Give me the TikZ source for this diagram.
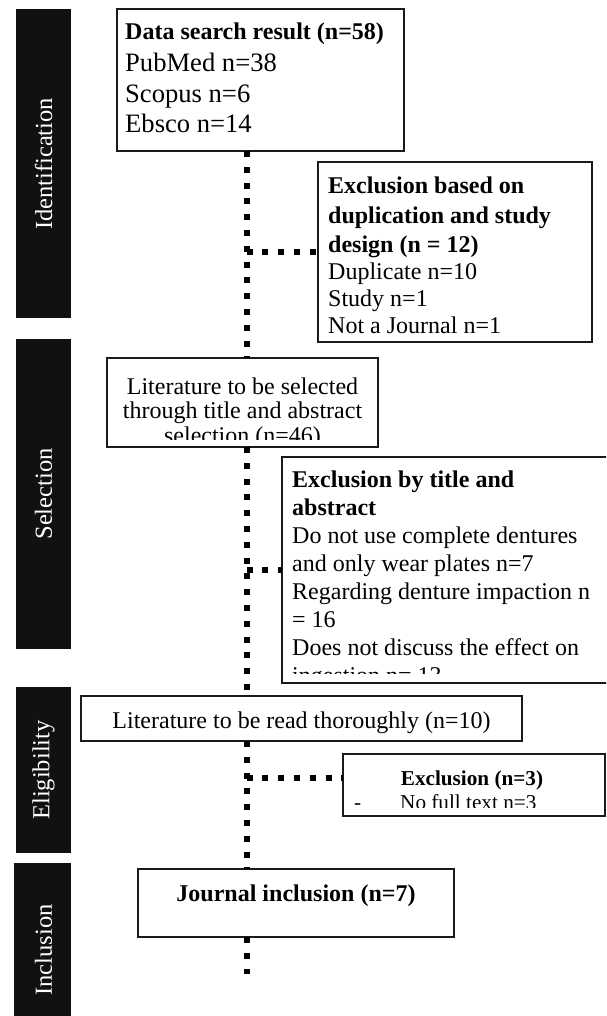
\documentclass[tikz,border=0pt]{standalone}
\usepackage{fontspec}
\setmainfont{Liberation Serif}
\definecolor{barblack}{HTML}{111111}
\definecolor{boxline}{HTML}{1A1A1A}
\begin{document}
\begin{tikzpicture}[x=1pt,y=-1pt,
  bar/.style={fill=barblack, draw=none},
  barlabel/.style={text=white, rotate=90, inner sep=0, font=\fontsize{24.5}{29}\selectfont},
  box/.style={draw=boxline, line width=1.6pt, anchor=north west, inner sep=0, outer sep=0},
  txt/.style={anchor=base west, inner sep=0, font=\fontsize{24}{28}\selectfont},
  txtL/.style={anchor=base west, inner sep=0, font=\fontsize{26.6}{31}\selectfont},
  ctxt/.style={anchor=base, inner sep=0, font=\fontsize{24}{28}\selectfont},
  bold/.style={font=\fontsize{24}{28}\selectfont\bfseries},
  small/.style={font=\fontsize{21.2}{24}\selectfont},
  smallbold/.style={font=\fontsize{21.2}{24}\selectfont\bfseries},
  dotline/.style={line width=6pt, dash pattern=on 6pt off 9.8pt, draw=black}
]
\clip (0,0) rectangle (606,1016);
\fill[white] (0,0) rectangle (606,1016);

% side bars
\fill[bar] (16,9) rectangle (71,318);
\fill[bar] (16,339) rectangle (71,649);
\fill[bar] (16,687) rectangle (71,853);
\fill[bar] (14,863) rectangle (71,1040);
\node[barlabel] (lid) at (43.5,164) {Identification};
\node[barlabel] (lsel) at (43.5,494) {Selection};
\node[barlabel] (lel) at (43.5,770) {Eligibility};
\node[barlabel] (lin) at (43.5,950) {Inclusion};

% boxes
\node[box, minimum width=287pt, minimum height=142pt] (b1) at (117,9) {};
\node[box, minimum width=274pt, minimum height=180pt] (e1) at (318,162) {};
\node[box, minimum width=271pt, minimum height=89pt] (b2) at (107,358) {};
\node[box, minimum width=340pt, minimum height=226pt] (e2) at (282,457) {};
\node[box, minimum width=441pt, minimum height=45pt] (b3) at (81,696) {};
\node[box, minimum width=262pt, minimum height=62pt] (e3) at (343,754) {};
\node[box, minimum width=316pt, minimum height=68pt] (b4) at (138,869) {};

% connectors
\coordinate (spine) at (246.5,0);
\coordinate (tail) at (246.5,974);
\coordinate (br3) at (343,778);
\draw[dotline] (b1.south -| spine) -- (b2.north -| spine);
\draw[dotline] (b2.south -| spine) -- (b3.north -| spine);
\draw[dotline] (b3.south -| spine) -- (b4.north -| spine);
\draw[dotline] (b4.south -| spine) -- (tail);
\draw[dotline] (e1.west -| spine) -- (e1.west);
\draw[dotline] (e2.west -| spine) -- (e2.west);
\draw[dotline] (br3 -| spine) -- (br3);

% box 1 text
\node[txt, bold] (t11) at (125,40) {Data search result (n=58)};
\node[txtL] (t12) at (125,72) {PubMed n=38};
\node[txtL] (t13) at (125,103) {Scopus n=6};
\node[txtL] (t14) at (125,133) {Ebsco n=14};

% exclusion 1 text
\node[txt, bold] (t21) at (328,194) {Exclusion based on};
\node[txt, bold] (t22) at (328,223) {duplication and study};
\node[txt, bold] (t23) at (328,252) {design (n = 12)};
\node[txt] (t24) at (328,279) {Duplicate n=10};
\node[txt] (t25) at (328,306) {Study n=1};
\node[txt] (t26) at (328,333) {Not a Journal n=1};

% box 2 text (clipped)
\begin{scope}
\clip (b2.north west) rectangle ([yshift=8pt]b2.south east);
\node[ctxt] (t31) at (242.5,394) {Literature to be selected};
\node[ctxt] (t32) at (242.5,418) {through title and abstract};
\node[ctxt] (t33) at (242.5,443) {selection (n=46)};
\end{scope}

% exclusion 2 text (clipped)
\begin{scope}
\clip (e2.north west) rectangle ([yshift=10pt]e2.south east);
\node[txt, bold] (t41) at (292,487) {Exclusion by title and};
\node[txt, bold] (t42) at (292,515) {abstract};
\node[txt] (t43) at (292,543) {Do not use complete dentures};
\node[txt] (t44) at (292,571) {and only wear plates n=7};
\node[txt] (t45) at (292,599) {Regarding denture impaction n};
\node[txt] (t46) at (292,627) {= 16};
\node[txt] (t47) at (292,655) {Does not discuss the effect on};
\node[txt] (t48) at (292,683) {ingestion n= 13};
\end{scope}

% box 3 text
\node[ctxt] (t51) at (301.5,728) {Literature to be read thoroughly (n=10)};

% exclusion 3 text (clipped)
\begin{scope}
\clip (e3.north west) rectangle ([yshift=9pt]e3.south east);
\node[ctxt, smallbold] (t61) at (472,785) {Exclusion (n=3)};
\node[txt, small] (t62) at (354,809) {-};
\node[txt, small] (t63) at (400,809) {No full text n=3};
\end{scope}

% inclusion text
\node[ctxt, bold] (t71) at (296,901) {Journal inclusion (n=7)};
\end{tikzpicture}
\end{document}
